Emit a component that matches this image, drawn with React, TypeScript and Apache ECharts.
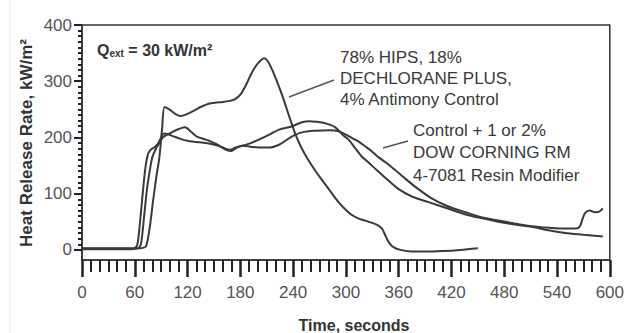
import React, { useEffect, useRef } from "react";
import * as echarts from "echarts";

// Curve A: 78% HIPS, 18% Dechlorane Plus, 4% Antimony Control
const timeA = [0, 20, 40, 60, 66, 70, 73, 77, 81, 85, 88, 91, 94, 100, 106, 112, 120, 128, 136, 144, 152, 160, 168, 174, 180, 186, 192, 198, 203, 207, 211, 216, 222, 228, 235, 243, 250, 258, 266, 274, 282, 290, 298, 306, 314, 322, 330, 336, 341, 345, 349, 354, 362, 375, 390, 410, 430, 450];
const hrrA = [3, 3, 3, 3, 3, 4, 7, 40, 90, 135, 165, 215, 254, 249, 242, 238, 242, 248, 255, 260, 262, 263, 265, 268, 276, 292, 312, 328, 337, 341, 336, 321, 298, 273, 240, 204, 180, 158, 139, 122, 105, 88, 74, 63, 56, 52, 48, 44, 38, 25, 13, 5, 0, -3, -3, -2, 0, 3];

// Curve B: Control + 1 or 2% Dow Corning RM 4-7081 (peak near 117 s, bump at end)
const timeB = [0, 20, 40, 60, 64, 67, 70, 74, 78, 80, 84, 88, 92, 97, 103, 110, 117, 124, 130, 141, 153, 164, 170, 176, 182, 190, 201, 213, 224, 232, 239, 250, 266, 281, 292, 300, 308, 315, 322, 329, 337, 345, 356, 365, 379, 397, 415, 436, 454, 481, 511, 534, 550, 562, 566, 569, 572, 577, 583, 588, 592];
const hrrB = [2, 2, 2, 2, 3, 10, 50, 110, 150, 165, 180, 190, 200, 205, 210, 215, 218, 210, 202, 196, 188, 178, 176, 182, 185, 184, 182, 182, 187, 195, 202, 209, 212, 213, 211, 205, 198, 192, 184, 176, 165, 156, 142, 130, 112, 92, 78, 67, 58, 50, 42, 39, 38, 38, 42, 55, 66, 70, 67, 68, 74];

// Curve C: Control + 1 or 2% Dow Corning RM 4-7081 (flat plateau, peak near 260 s)
const timeC = [0, 20, 40, 56, 60, 63, 66, 69, 72, 75, 78, 82, 86, 90, 93, 97, 104, 111, 120, 130, 141, 153, 160, 168, 175, 184, 192, 201, 213, 224, 239, 250, 258, 266, 277, 288, 296, 303, 311, 318, 326, 335, 345, 360, 375, 394, 415, 436, 455, 473, 492, 511, 530, 549, 570, 592];
const hrrC = [1, 1, 1, 1, 3, 10, 50, 100, 145, 170, 178, 182, 188, 200, 207, 206, 202, 198, 194, 192, 190, 186, 182, 178, 182, 186, 190, 196, 205, 214, 220, 227, 229, 228, 225, 218, 205, 196, 180, 166, 155, 142, 128, 108, 95, 85, 74, 63, 56, 50, 45, 41, 35, 30, 27, 24];

const xTicks = [0, 60, 120, 180, 240, 300, 360, 420, 480, 540, 600];
const yTicks = [0, 100, 200, 300, 400];
const yMinorTicks = Array.from({ length: 41 }, (_, i) => i * 10);

const pair = (t: number[], v: number[]) => t.map((x, i) => [x, v[i]]);

const FONT = "'Liberation Sans', Arial, Helvetica, sans-serif";
const LINE = "#3a3a3a";

export default function App() {
  const ref = useRef<HTMLDivElement>(null);
  useEffect(() => {
    if (!ref.current) return;
    const chart = echarts.init(ref.current, null, { renderer: "svg" });
    const seriesStyle = {
      type: "line" as const,
      showSymbol: false,
      smooth: 0.3,
      clip: false,
      lineStyle: { color: LINE, width: 2 },
      xAxisIndex: 0,
      yAxisIndex: 0,
    };
    chart.setOption({
      animation: false,
      backgroundColor: "#fff",
      textStyle: { fontFamily: FONT },
      grid: {
        left: 82,
        right: 15,
        top: 25,
        bottom: 73,
        show: true,
        borderColor: "#333",
        borderWidth: 1.5,
        backgroundColor: "transparent",
      },
      xAxis: {
        type: "value",
        min: 0,
        max: 600,
        interval: 60,
        axisLine: { show: true, onZero: false, lineStyle: { color: "#333", width: 1.5 } },
        axisTick: { show: true, length: 17, lineStyle: { color: "#222", width: 2.5 } },
        minorTick: { show: true, splitNumber: 6, length: 12, lineStyle: { color: "#222", width: 2 } },
        axisLabel: {
          fontSize: 17,
          color: "#555",
          margin: 24,
          fontFamily: FONT,
          customValues: xTicks,
        },
        splitLine: { show: false },
        minorSplitLine: { show: false },
      },
      yAxis: [
        {
          type: "value",
          min: -18,
          max: 400,
          axisLine: { show: true, onZero: false, lineStyle: { color: "#333", width: 1.5 } },
          axisTick: { show: true, length: 8, customValues: yTicks, lineStyle: { color: "#222", width: 2 } },
          axisLabel: { fontSize: 17, color: "#555", margin: 10, fontFamily: FONT, customValues: yTicks },
          splitLine: { show: false },
        },
        {
          type: "value",
          min: -18,
          max: 400,
          position: "left",
          axisLine: { show: false },
          axisTick: { show: true, length: 4, customValues: yMinorTicks, lineStyle: { color: "#222", width: 2 } },
          axisLabel: { show: false, customValues: yMinorTicks },
          splitLine: { show: false },
        },
      ],
      series: [
        { ...seriesStyle, name: "HIPS", data: pair(timeA, hrrA) },
        { ...seriesStyle, name: "RM-B", data: pair(timeB, hrrB) },
        { ...seriesStyle, name: "RM-C", data: pair(timeC, hrrC) },
      ],
      graphic: [
        {
          type: "line",
          shape: { x1: 10, y1: 0, x2: 10, y2: 333 },
          style: { stroke: "#e4e4e4", lineWidth: 1 },
        },
        {
          type: "text",
          x: 97,
          y: 50,
          style: {
            text: "{a|Q}{b|ext}{a| = 30 kW/m²}",
            verticalAlign: "middle",
            rich: {
              a: { fontSize: 16, fontWeight: "bold", fill: "#333", fontFamily: FONT },
              b: { fontSize: 10, fontWeight: "bold", fill: "#333", fontFamily: FONT, padding: [6, 0, 0, 0] },
            },
          },
        },
        {
          type: "text",
          x: 26,
          y: 143,
          rotation: Math.PI / 2,
          style: {
            text: "Heat Release Rate, kW/m²",
            fontSize: 17,
            fontWeight: "bold",
            fill: "#333",
            fontFamily: FONT,
            align: "center",
            verticalAlign: "middle",
          },
        },
        {
          type: "text",
          x: 354,
          y: 325,
          style: {
            text: "Time, seconds",
            fontSize: 16,
            fontWeight: "bold",
            fill: "#333",
            fontFamily: FONT,
            align: "center",
            verticalAlign: "middle",
          },
        },
        {
          type: "text",
          x: 340,
          y: 47,
          style: {
            text: "78% HIPS, 18%\nDECHLORANE PLUS,\n4% Antimony Control",
            fontSize: 17,
            lineHeight: 21,
            fill: "#3a3a3a",
            fontFamily: FONT,
            align: "left",
            verticalAlign: "top",
          },
        },
        {
          type: "text",
          x: 413,
          y: 119,
          style: {
            text: "Control + 1 or 2%\nDOW CORNING RM\n4-7081 Resin Modifier",
            fontSize: 17,
            lineHeight: 22.5,
            fill: "#3a3a3a",
            fontFamily: FONT,
            align: "left",
            verticalAlign: "top",
          },
        },
        {
          type: "line",
          shape: { x1: 289, y1: 97, x2: 334, y2: 80 },
          style: { stroke: "#555", lineWidth: 1.5 },
        },
        {
          type: "line",
          shape: { x1: 383, y1: 148, x2: 408, y2: 141 },
          style: { stroke: "#555", lineWidth: 1.5 },
        },
      ],
    });
    return () => chart.dispose();
  }, []);
  return (
    <div
      ref={ref}
      style={{ position: "fixed", left: 0, top: 0, width: 627, height: 333, background: "#fff" }}
    />
  );
}
